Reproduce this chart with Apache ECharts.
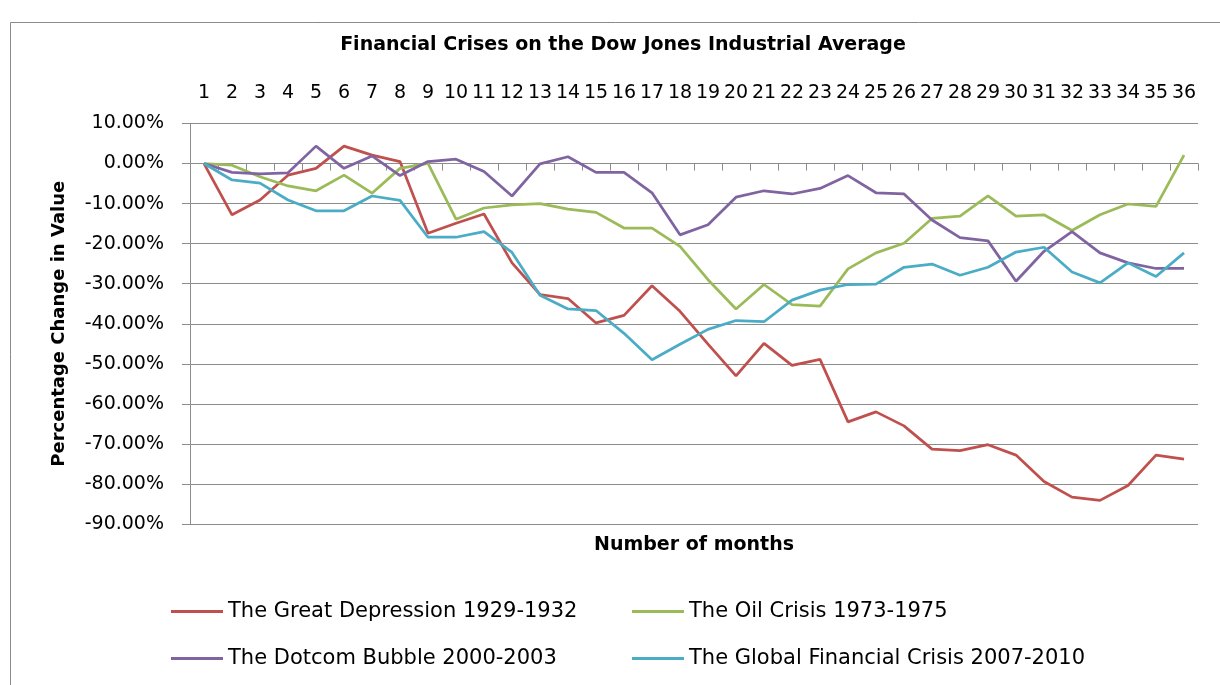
<!DOCTYPE html>
<html>
<head>
<meta charset="utf-8">
<script src="https://cdn.jsdelivr.net/npm/echarts@6/dist/echarts.min.js"></script>
<style>
html,body{margin:0;padding:0;background:#fff;}
#chart{width:1220px;height:685px;}
</style>
</head>
<body>
<div id="chart"></div>
<script>
var months = ['1','2','3','4','5','6','7','8','9','10','11','12','13','14','15','16','17','18','19','20','21','22','23','24','25','26','27','28','29','30','31','32','33','34','35','36'];
var seriesNames = ['The Great Depression 1929-1932','The Oil Crisis 1973-1975','The Dotcom Bubble 2000-2003','The Global Financial Crisis 2007-2010'];
var greatDepression = [0, -12.8, -9.1, -2.9, -1.2, 4.35, 2.1, 0.5, -17.4, -14.9, -12.6, -24.8, -32.7, -33.7, -39.8, -37.9, -30.5, -36.9, -45.1, -53.0, -44.9, -50.4, -48.9, -64.5, -62.0, -65.5, -71.3, -71.7, -70.2, -72.8, -79.4, -83.3, -84.1, -80.4, -72.8, -73.8];
var oilCrisis = [0, -0.4, -3.3, -5.6, -6.8, -2.9, -7.4, -1.2, 0.05, -13.9, -11.1, -10.3, -10.0, -11.4, -12.2, -16.1, -16.1, -20.7, -29.0, -36.3, -30.2, -35.2, -35.6, -26.3, -22.3, -19.9, -13.7, -13.1, -8.1, -13.1, -12.8, -16.7, -12.8, -10.1, -10.7, 2.1];
var dotcomBubble = [0, -2.2, -2.6, -2.3, 4.35, -1.2, 1.9, -3.0, 0.5, 1.1, -2.0, -8.1, -0.1, 1.7, -2.2, -2.2, -7.3, -17.8, -15.3, -8.4, -6.8, -7.6, -6.2, -3.0, -7.3, -7.6, -14.1, -18.5, -19.3, -29.4, -21.9, -17.0, -22.3, -24.8, -26.2, -26.2];
var globalFinancial = [0, -4.1, -4.9, -9.1, -11.8, -11.8, -8.1, -9.2, -18.4, -18.4, -17.0, -22.2, -32.9, -36.3, -36.7, -42.4, -49.0, -45.1, -41.4, -39.2, -39.5, -34.1, -31.6, -30.2, -30.1, -25.9, -25.1, -27.9, -25.9, -22.1, -20.9, -27.1, -29.8, -24.8, -28.2, -22.3];
var colors = ['#C0504D','#9BBB59','#8064A2','#4BACC6'];
var font = 'DejaVu Sans';
var gridColor = '#8c8c8c';

var chart = echarts.init(document.getElementById('chart'), null, {renderer:'canvas'});
function mkSeries(name, data, color){
  return {name:name, type:'line', data:data, xAxisIndex:0, yAxisIndex:0, symbol:'none', showSymbol:false,
    lineStyle:{color:color, width:2.75}, itemStyle:{color:color}, animation:false};
}
var legendCommon = {orient:'vertical', icon:'rect', itemWidth:52, itemHeight:3, itemGap:26,
  textStyle:{fontFamily:font, fontSize:21, color:'#000'}, selectedMode:false};
chart.setOption({
  animation:false,
  backgroundColor:'#fff',
  title:{text:'Financial Crises on the Dow Jones Industrial Average', left:618, top:31, textAlign:'center',
    textStyle:{fontFamily:font, fontWeight:'bold', fontSize:19, color:'#000'}},
  grid:{left:190, right:22, top:123.5, bottom:161, containLabel:false},
  xAxis:[{
    type:'category', data:months, position:'bottom', boundaryGap:true,
    axisLine:{show:true, onZero:true, lineStyle:{color:gridColor, width:1}},
    axisTick:{show:true, length:7, inside:false, lineStyle:{color:gridColor}},
    axisLabel:{show:false}, splitLine:{show:false}
  },{
    type:'category', data:months, position:'top', boundaryGap:true,
    axisLine:{show:false}, axisTick:{show:false}, splitLine:{show:false},
    axisLabel:{show:true, interval:0, margin:21, fontFamily:font, fontSize:19, color:'#000'}
  }],
  yAxis:[{
    type:'value', min:-90, max:10, interval:10,
    axisLine:{show:true, lineStyle:{color:gridColor, width:1}},
    axisTick:{show:true, length:8, lineStyle:{color:gridColor}},
    splitLine:{show:true, lineStyle:{color:gridColor, width:1}},
    axisLabel:{margin:26, fontFamily:font, fontSize:19, color:'#000',
      formatter:function(v){return v.toFixed(2)+'%';}},
    name:'Percentage Change in Value', nameLocation:'middle', nameRotate:90, nameGap:122,
    nameTextStyle:{fontFamily:font, fontWeight:'bold', fontSize:18, color:'#000'}
  }],
  legend:[
    Object.assign({left:166, top:596, data:[seriesNames[0], seriesNames[2]]}, legendCommon),
    Object.assign({left:627, top:596, data:[seriesNames[1], seriesNames[3]]}, legendCommon)
  ],
  graphic:[
    {type:'rect', left:8, top:20, shape:{width:1240, height:700}, style:{fill:null, stroke:'#8a8a8a', lineWidth:1}, z:-10, silent:true},
    {type:'text', x:694, y:545, style:{text:'Number of months', fontFamily:font, fontWeight:'bold', fontSize:19, fill:'#000', align:'center', verticalAlign:'middle'}}
  ],
  series:[
    mkSeries(seriesNames[0], greatDepression, colors[0]),
    mkSeries(seriesNames[1], oilCrisis, colors[1]),
    mkSeries(seriesNames[2], dotcomBubble, colors[2]),
    mkSeries(seriesNames[3], globalFinancial, colors[3])
  ]
});
</script>
</body>
</html>
